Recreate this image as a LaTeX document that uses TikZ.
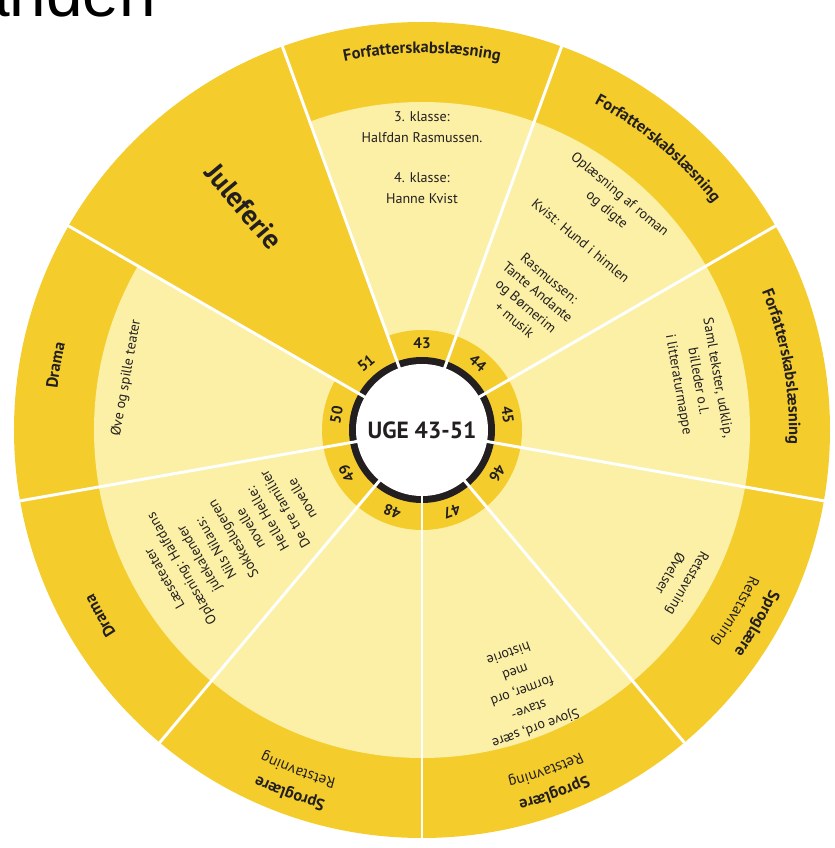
\documentclass[tikz,border=0pt]{standalone}
\usepackage{fontspec}
\setmainfont{PT Sans}
\newfontfamily\slidefont{Liberation Sans}
\usepackage{xcolor}
\usepackage{tikz}
\usetikzlibrary{calc,positioning,decorations.text}

\definecolor{gulmork}{RGB}{244,205,45}
\definecolor{gullys}{RGB}{251,240,166}
\definecolor{ink}{RGB}{35,31,32}

\newcommand{\bandfont}{\fontsize{14}{16}\selectfont\bfseries}
\newcommand{\subfont}{\fontsize{13}{15}\selectfont}
\newcommand{\notefont}{\fontsize{12}{17}\selectfont}

% curved label in the outer band: angle, baseline radius, font, text
\newcommand{\arclabel}[4]{%
  \path[decorate,decoration={text along path,text align=center,
        text color=ink,text={|#3|#4}}]
    ({#1+20}:#2) arc[start angle={#1+20},end angle={#1-20},radius=#2];}

\tikzset{
  note/.style={text=ink,font=\notefont,align=center,inner sep=0pt},
  weeknum/.style={text=ink,font=\fontsize{13}{15}\selectfont\bfseries,inner sep=0pt},
  divider/.style={white,line width=2.5pt},
}

\begin{document}
\begin{tikzpicture}[scale=1.0,line cap=round,line join=round,x=0.03cm,y=0.03cm]
\useasboundingbox (-422,-418) rectangle (412,430);
\clip (-422,-418) rectangle (412,430);
\coordinate (O) at (0,0);

\node[anchor=base west,inner sep=0pt,font=\slidefont\fontsize{56}{60}\selectfont] (overskrift) at (-449,413) {anden};

% rings
\fill[gulmork] (O) circle[radius=408];
\fill[gullys] (O) circle[radius=328];
\fill[gulmork] (O) -- (110:408) arc[start angle=110,end angle=150,radius=408] -- cycle;
\fill[gulmork] (O) circle[radius=100];
\fill[ink] (O) circle[radius=73];
\foreach \a in {150,110,...,-170}
  \draw[divider] (O) -- (\a:408);
\fill[white] (O) circle[radius=66];

\node[text=ink,font=\fontsize{20}{24}\selectfont\bfseries] (uge) at (O) {UGE 43-51};
\foreach \w [count=\i from 0] in {43,...,51}
  \node[weeknum,rotate={-40*\i}] (uge\w) at ({90-40*\i}:87) {\w};

% outer band
\arclabel{90}{377}{\bandfont}{Forfatterskabslæsning}
\arclabel{50}{369}{\bandfont}{Forfatterskabslæsning}
\arclabel{10}{367}{\bandfont}{Forfatterskabslæsning}
\arclabel{-30}{383}{\bandfont}{Sproglære}
\arclabel{-30}{359}{\subfont}{Retstavning}
\arclabel{-70}{383}{\bandfont}{Sproglære}
\arclabel{-70}{359}{\subfont}{Retstavning}
\arclabel{-110}{383}{\bandfont}{Sproglære}
\arclabel{-110}{359}{\subfont}{Retstavning}
\arclabel{-150}{367}{\bandfont}{Drama}
\arclabel{170}{367}{\bandfont}{Drama}
\node[text=ink,font=\fontsize{24}{28}\selectfont\bfseries,rotate=-50] (jul) at (128.5:286) {Juleferie};

% inner notes
\node[note,font=\fontsize{12}{18}\selectfont] (klasse) at (90:272) {3. klasse:\\Halfdan Rasmussen.\\[16pt]4. klasse:\\Hanne Kvist};
\node[note,rotate=-40] (roman) at (50:297) {Oplæsning af roman\\og digte};
\node[note,rotate=-40] (kvist) at (50:247) {Kvist: Hund i himlen};
\node[note,rotate=-40,font=\fontsize{12}{15.5}\selectfont] (andante) at (50:171) {Rasmussen:\\Tante Andante\\og Børnerim\\+ musik};
\node[note,rotate=-80] (mappe) at (10:280) {Saml tekster, udklip,\\billeder o.l.\\i litteraturmappe};
\node[note,rotate=-120] (oevelser) at (-30:297) {Retstavning\\Øvelser};
\node[note,rotate=-160] (stave) at (-69:280) {Sjove ord, sære\\stave-\\former, ord\\med\\historie};
\node[note,rotate=120] (laese) at (-150:218) {Læseteater\\Oplæsning: Halfdans\\julekalender\\Nils Nilaus:\\Sokkeslugeren\\novelle\\Helle Helle:\\De tre familier\\novelle};
\node[note,rotate=80] (teater) at (170:300) {Øve og spille teater};
\end{tikzpicture}
\end{document}
